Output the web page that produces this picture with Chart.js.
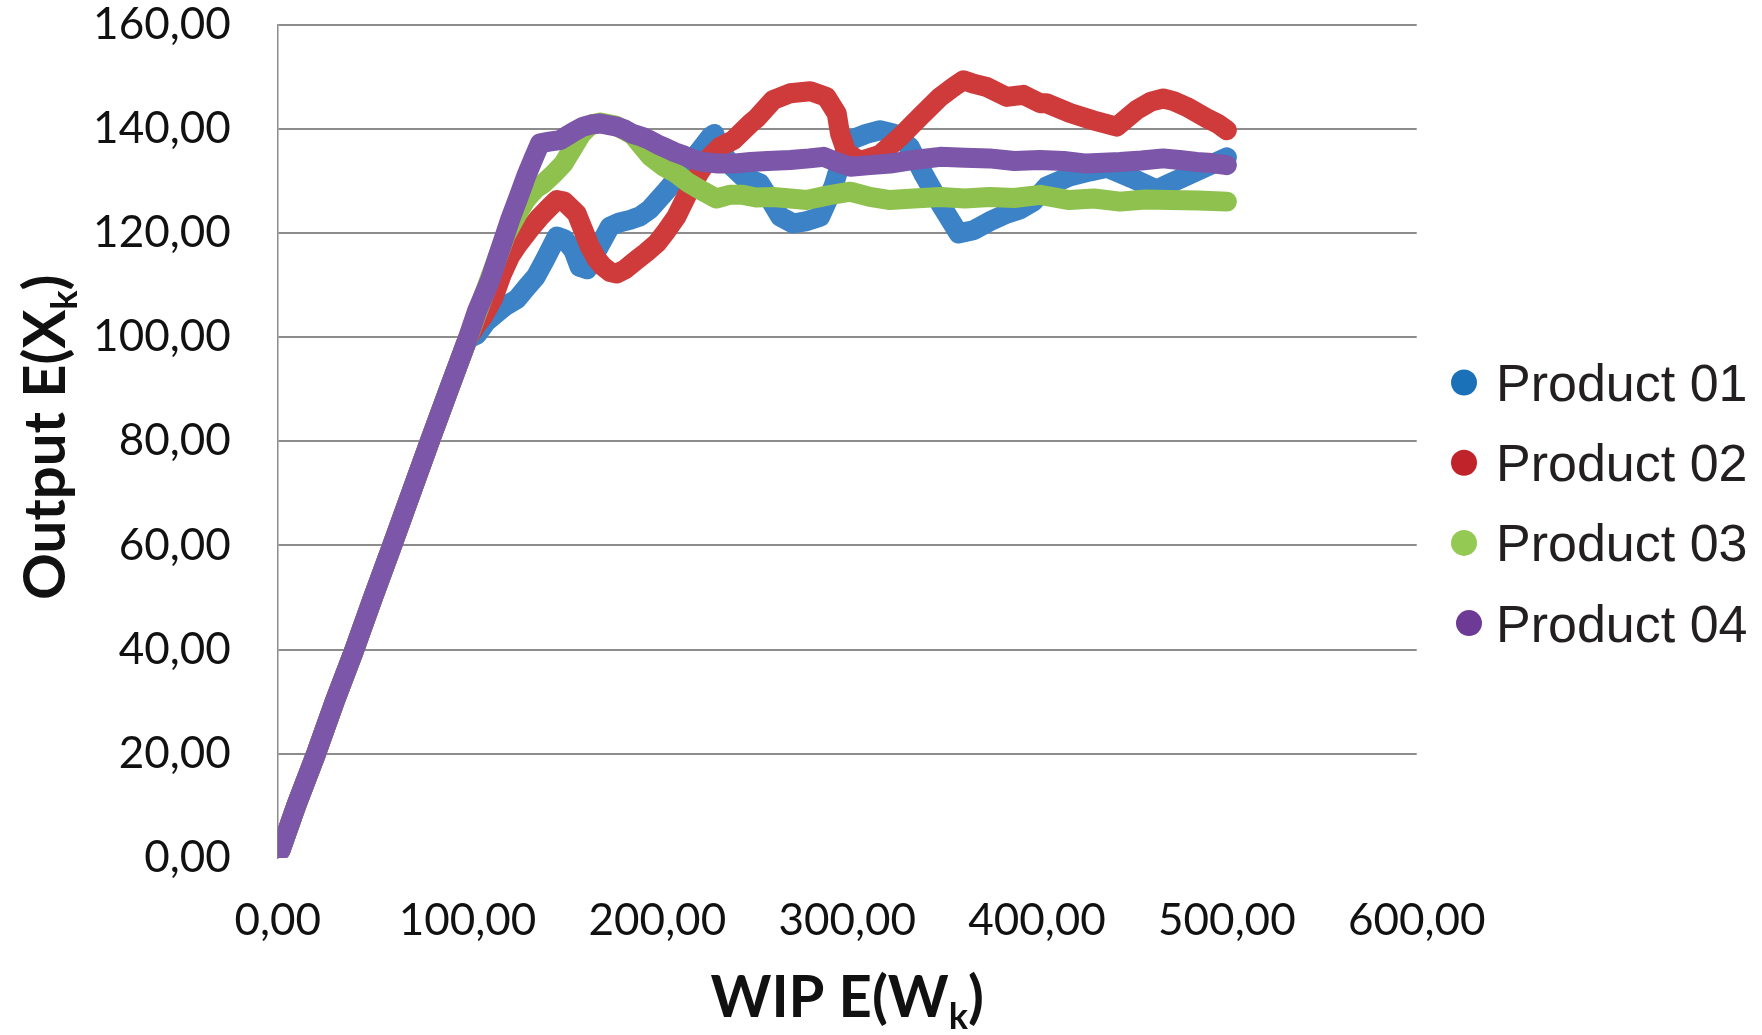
<!DOCTYPE html>
<html>
<head>
<meta charset="utf-8">
<title>Output vs WIP</title>
<script src="https://cdn.jsdelivr.net/npm/chart.js@4.4.1/dist/chart.umd.min.js"></script>
<style>
  html, body { margin: 0; padding: 0; background: #ffffff; }
  canvas { display: block; }
</style>
</head>
<body>
<canvas id="chart" width="1762" height="1035"></canvas>
<script>
// ---- data ----------------------------------------------------------------
const seriesNames = ['Product 01', 'Product 02', 'Product 03', 'Product 04'];
const xTickValues = [0, 100, 200, 300, 400, 500, 600];
const yTickValues = [0, 20, 40, 60, 80, 100, 120, 140, 160];

// common linear ramp shared by all four products
const rampX = [1.5, 10, 20, 30, 40, 50, 60, 70, 80, 90, 100];
const rampY = [1.5, 10.3, 19.8, 30, 39.6, 49.8, 59.7, 69.8, 79.9, 89.8, 99.6];

const p01X = [105, 110, 115, 120, 126, 131, 136, 141, 147, 151, 155.7, 159, 163, 168, 175, 180, 185.6, 191, 196, 205, 213.7, 222.5, 228, 230, 233, 240, 245, 254, 260, 264.7, 271.6, 278, 285.8, 290, 293, 297, 301.7, 310, 317.3, 324.3, 333, 340, 349, 358.7, 366.5, 375, 384, 391, 398, 405, 417, 428, 437, 450, 463, 470, 479, 490, 500];
const p01Y = [100.5, 103, 104.5, 106, 107.3, 109.5, 111.6, 115, 119.3, 118.8, 116.7, 113.5, 113, 116.5, 121.2, 122, 122.5, 123.2, 124.5, 128.2, 132, 135.9, 138.5, 139, 136, 132.5, 130.8, 129.5, 126, 123.1, 121.8, 122.2, 123.1, 126.5, 129.2, 134, 137.8, 139, 139.7, 139.1, 136.5, 131.4, 125.6, 119.9, 120.5, 122.2, 123.7, 124.5, 126, 128.9, 130.8, 131.8, 132.5, 130.5, 128.3, 129.5, 131, 132.8, 134.5];

const p02X = [105, 108.3, 113.6, 118, 122.4, 126, 133, 138, 143.4, 147, 151, 157.5, 161, 164.5, 168, 171.5, 175, 178.6, 183, 189, 194, 199.7, 205, 210, 217, 222, 227.7, 233, 240, 249, 252.3, 261, 270, 280.5, 289, 294.5, 296.2, 299.7, 306.7, 317.3, 327.8, 338.4, 349, 356, 361.2, 367, 373.5, 384, 392.8, 401.6, 405, 417.4, 429.6, 442, 452.5, 460, 466.5, 472, 478.8, 489.4, 495, 500];
const p02Y = [102.5, 104, 107.5, 112, 115.5, 117.5, 120.8, 123, 125, 126.3, 126, 123.7, 120.5, 117.3, 115, 113.5, 112.5, 112.2, 113, 114.8, 116.2, 118, 120.5, 123.1, 128.3, 131.5, 134.6, 136.5, 137.8, 141, 142, 145.5, 146.8, 147.2, 146.1, 142.9, 139.1, 135.4, 133.8, 135, 138.4, 142.3, 146.1, 148, 149.3, 148.6, 148, 146.1, 146.5, 144.9, 144.9, 143, 141.6, 140.4, 143.6, 145.2, 145.8, 145.3, 144.2, 142, 141, 139.7];

const p03X = [110, 120, 126, 131, 136, 140, 145, 150.5, 155, 160, 165, 170, 178, 187, 196, 203, 210, 216, 222.5, 231, 238, 245, 252, 261, 270, 278.6, 290, 301.7, 312, 322.6, 335, 349, 362, 375, 388, 401.6, 417, 430, 443.7, 457, 470, 485, 500];
const p03Y = [109.5, 119.5, 123.5, 126.5, 128.5, 129.5, 131.2, 133.3, 136, 139, 140.8, 141.2, 140.6, 138.8, 134.8, 132.8, 131.4, 129.7, 128.3, 126.6, 127.3, 127.3, 126.8, 126.9, 126.6, 126.3, 127.2, 127.9, 126.9, 126.3, 126.6, 126.9, 126.6, 126.9, 126.7, 127.3, 126.3, 126.6, 126, 126.4, 126.3, 126.2, 126];

const p04X = [105, 111.8, 116, 122.4, 127, 131, 135, 138.2, 143, 148.7, 155, 161, 165, 169.8, 174, 178.6, 183, 187, 191.5, 196, 200, 205, 209, 213.6, 218, 224, 232, 240, 249, 258, 270, 280, 287.5, 295, 301.7, 312, 322.6, 335, 349, 362, 375, 388, 401.6, 414, 426, 443.7, 455, 466.5, 475, 484, 492, 500];
const p04Y = [105, 110.8, 115.5, 122.5, 127, 131, 134.5, 137.2, 137.5, 137.8, 139.2, 140.4, 140.8, 141, 140.7, 140.4, 139.8, 139, 138.5, 137.8, 137, 136.2, 135.5, 134.9, 134.2, 133.6, 133.3, 133.3, 133.6, 133.8, 134, 134.3, 134.6, 133.5, 132.7, 133, 133.3, 134, 134.6, 134.4, 134.3, 133.8, 134, 133.8, 133.3, 133.6, 133.9, 134.3, 134, 133.6, 133.4, 133];

// ---- styling -------------------------------------------------------------
const lineColors   = ['#3b82c6', '#cf3b3b', '#8fc14e', '#7c56a8'];
const legendColors = ['#1a71b8', '#c1232a', '#94c954', '#6d3a96'];
const drawOrder    = [3, 2, 1, 0];   // Product 04 drawn on top
const tickFont = { family: 'Lato', size: 44 };
const gridGrey = '#8c8c8c';

function toPoints(xs, ys) {
  return xs.map((x, i) => ({ x: x, y: ys[i] }));
}
function fmt(v) {
  return Number(v).toFixed(2).replace('.', ',');
}

const seriesX = [p01X, p02X, p03X, p04X];
const seriesY = [p01Y, p02Y, p03Y, p04Y];

const datasets = seriesNames.map((name, i) => ({
  label: name,
  data: toPoints(rampX.concat(seriesX[i]), rampY.concat(seriesY[i])),
  showLine: true,
  borderColor: lineColors[i],
  backgroundColor: lineColors[i],
  borderWidth: 20,
  borderJoinStyle: 'round',
  borderCapStyle: 'round',
  pointRadius: 0,
  tension: 0,
  order: drawOrder[i]
}));

// text with a lowered subscript, centred on the origin
function drawSubscripted(ctx, pre, sub, post, size, color) {
  const mainFont = '700 ' + size + 'px Lato';
  const subFont = '700 ' + Math.round(size * 0.62) + 'px Lato';
  ctx.font = mainFont;
  const w1 = ctx.measureText(pre).width;
  const w3 = ctx.measureText(post).width;
  ctx.font = subFont;
  const w2 = ctx.measureText(sub).width;
  const total = w1 + w2 + w3;
  let x = -total / 2;
  ctx.fillStyle = color;
  ctx.textBaseline = 'alphabetic';
  ctx.textAlign = 'left';
  ctx.font = mainFont;
  ctx.fillText(pre, x, 0);
  x += w1;
  ctx.font = subFont;
  ctx.fillText(sub, x, size * 0.2);
  x += w2;
  ctx.font = mainFont;
  ctx.fillText(post, x, 0);
}

const axisTitles = {
  id: 'axisTitles',
  afterDraw(chart) {
    const ctx = chart.ctx;
    const a = chart.chartArea;
    ctx.save();
    ctx.translate((a.left + a.right) / 2, 1017);
    drawSubscripted(ctx, 'WIP E(W', 'k', ')', 58, '#111111');
    ctx.restore();

    ctx.save();
    ctx.translate(65, (a.top + a.bottom) / 2 - 4);
    ctx.rotate(-Math.PI / 2);
    drawSubscripted(ctx, 'Output E(X', 'k', ')', 58, '#111111');
    ctx.restore();
  }
};

const sideLegend = {
  id: 'sideLegend',
  afterDraw(chart) {
    const ctx = chart.ctx;
    ctx.save();
    ctx.font = '52px "Liberation Sans", Arial, sans-serif';
    ctx.textAlign = 'left';
    ctx.textBaseline = 'alphabetic';
    chart.data.datasets.forEach((ds, i) => {
      const rowY = 382.5 + i * 80.2;
      const cx = i === 3 ? 1469 : 1464;
      ctx.beginPath();
      ctx.arc(cx, rowY, 13, 0, Math.PI * 2);
      ctx.fillStyle = legendColors[i];
      ctx.fill();
      ctx.fillStyle = '#231f20';
      ctx.fillText(ds.label, 1496, rowY + 18.5);
    });
    ctx.restore();
  }
};

function build() {
  new Chart(document.getElementById('chart'), {
    type: 'scatter',
    data: { datasets: datasets },
    plugins: [axisTitles, sideLegend],
    options: {
      responsive: false,
      animation: false,
      devicePixelRatio: 1,
      layout: { padding: { top: 24.5, right: 345.3, bottom: 0, left: 0 } },
      plugins: {
        legend: { display: false },
        tooltip: { enabled: false }
      },
      scales: {
        x: {
          type: 'linear',
          position: 'bottom',
          min: 0,
          max: 600,
          afterBuildTicks: (s) => { s.ticks = xTickValues.map(v => ({ value: v })); },
          afterFit: (s) => { s.height = 177; s.paddingLeft = 0; s.paddingRight = 0; },
          ticks: {
            callback: fmt,
            font: tickFont,
            color: '#111111',
            padding: 28,
            maxRotation: 0,
            autoSkip: false
          },
          grid: { display: false },
          border: { display: false }
        },
        y: {
          type: 'linear',
          min: 0,
          max: 160,
          afterBuildTicks: (s) => { s.ticks = yTickValues.map(v => ({ value: v })); },
          afterFit: (s) => { s.width = 277.7; s.paddingTop = 0; s.paddingBottom = 0; },
          ticks: {
            callback: fmt,
            font: tickFont,
            color: '#111111',
            padding: 47,
            autoSkip: false
          },
          grid: {
            drawTicks: false,
            lineWidth: 2,
            color: (c) => (c.tick && c.tick.value === 0) ? 'rgba(0,0,0,0)' : gridGrey
          },
          border: { display: true, color: gridGrey, width: 1.5 }
        }
      }
    }
  });
}

if (document.fonts && document.fonts.load) {
  Promise.all([
    document.fonts.load('44px Lato'),
    document.fonts.load('700 58px Lato'),
    document.fonts.load('52px "Liberation Sans"')
  ]).then(build, build);
} else {
  build();
}
</script>
</body>
</html>
